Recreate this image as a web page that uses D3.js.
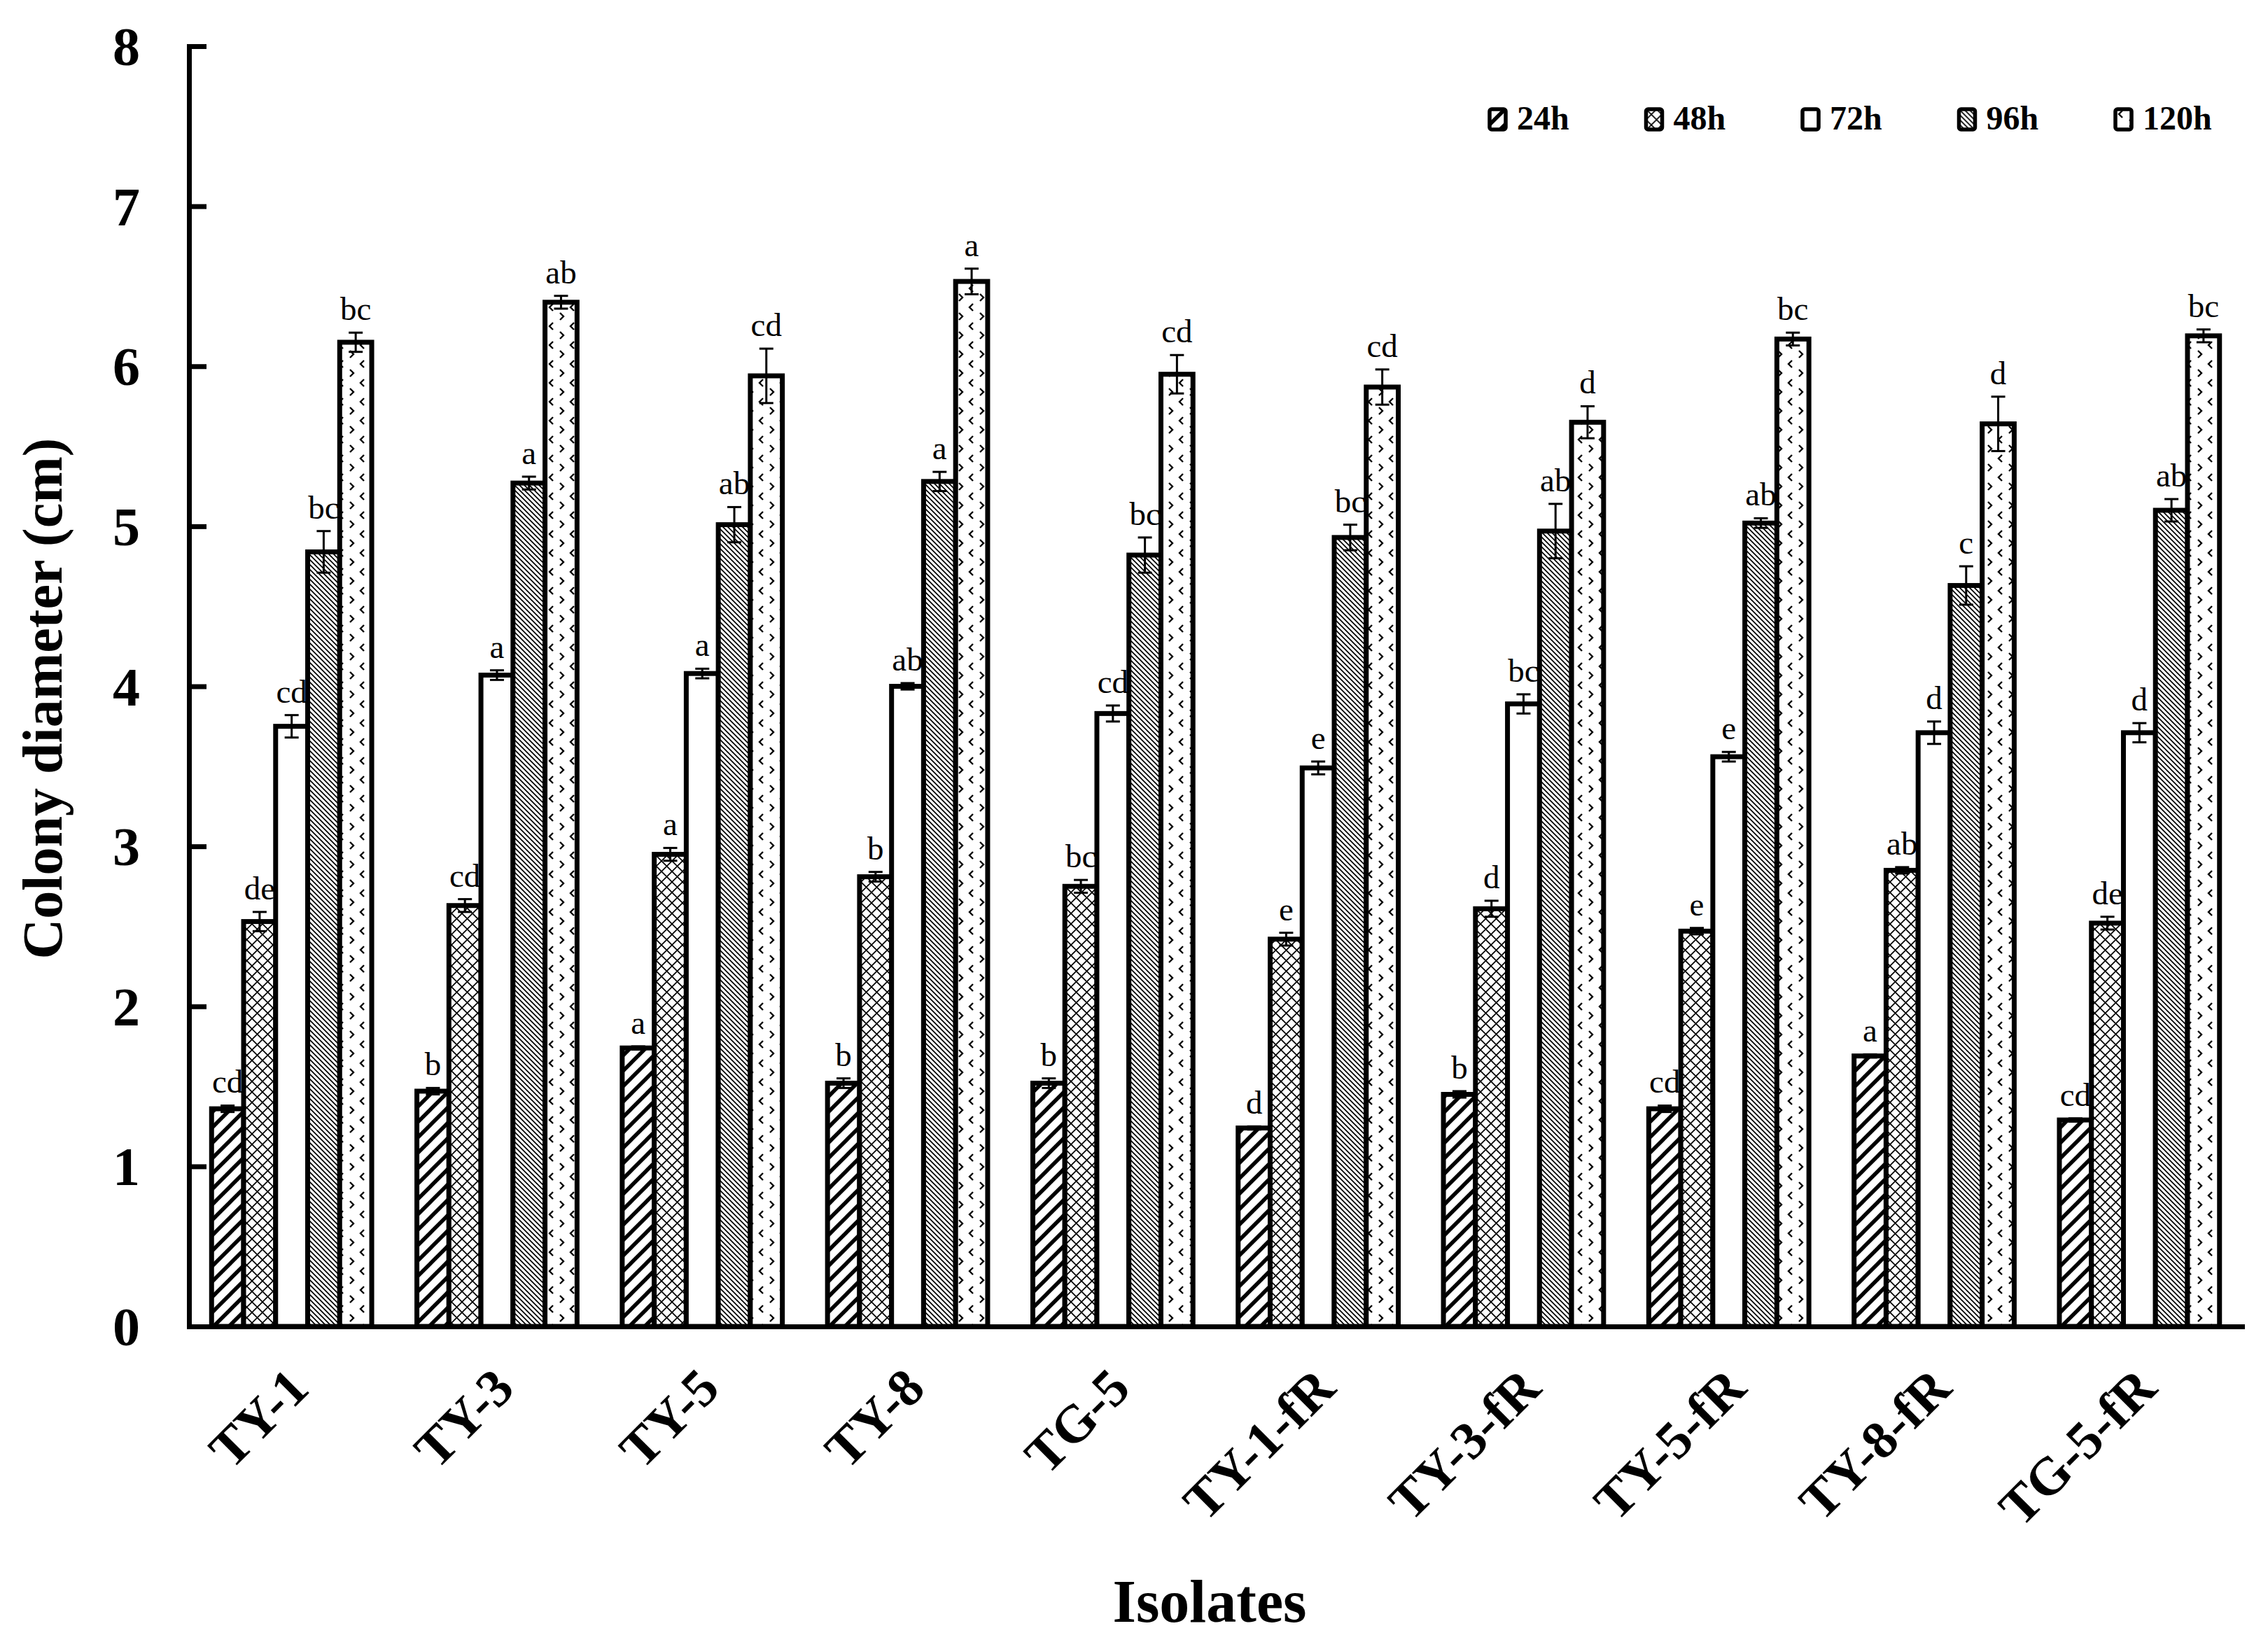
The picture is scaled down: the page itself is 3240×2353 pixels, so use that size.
<!DOCTYPE html>
<html>
<head>
<meta charset="utf-8">
<script src="https://cdn.jsdelivr.net/npm/d3@7"></script>
<style>
  html, body { margin: 0; padding: 0; background: #fff; }
  svg { display: block; }
  text { font-family: "Liberation Serif", "Times New Roman", serif; fill: #000; }
</style>
</head>
<body>
<svg id="chart" width="3240" height="2353"></svg>
<script>
// ---------- DATA ----------
const categories = ["TY-1", "TY-3", "TY-5", "TY-8", "TG-5", "TY-1-fR", "TY-3-fR", "TY-5-fR", "TY-8-fR", "TG-5-fR"];
const seriesNames = ["24h", "48h", "72h", "96h", "120h"];

const mean24  = [1.36, 1.47, 1.74, 1.52, 1.52, 1.24, 1.45, 1.36, 1.69, 1.29];
const mean48  = [2.53, 2.63, 2.95, 2.81, 2.75, 2.42, 2.61, 2.47, 2.85, 2.52];
const mean72  = [3.75, 4.07, 4.08, 4.00, 3.83, 3.49, 3.89, 3.56, 3.71, 3.71];
const mean96  = [4.84, 5.27, 5.01, 5.28, 4.82, 4.93, 4.97, 5.02, 4.63, 5.10];
const mean120 = [6.15, 6.40, 5.94, 6.53, 5.95, 5.87, 5.65, 6.17, 5.64, 6.19];

const err24  = [0.02, 0.02, 0.01, 0.03, 0.03, 0.01, 0.02, 0.02, 0.01, 0.01];
const err48  = [0.06, 0.04, 0.04, 0.03, 0.04, 0.04, 0.05, 0.02, 0.02, 0.04];
const err72  = [0.07, 0.03, 0.03, 0.02, 0.05, 0.04, 0.06, 0.03, 0.07, 0.06];
const err96  = [0.13, 0.04, 0.11, 0.06, 0.11, 0.08, 0.17, 0.03, 0.12, 0.07];
const err120 = [0.06, 0.04, 0.17, 0.08, 0.12, 0.11, 0.10, 0.04, 0.17, 0.04];

const let24  = ["cd", "b", "a", "b", "b", "d", "b", "cd", "a", "cd"];
const let48  = ["de", "cd", "a", "b", "bc", "e", "d", "e", "ab", "de"];
const let72  = ["cd", "a", "a", "ab", "cd", "e", "bc", "e", "d", "d"];
const let96  = ["bc", "a", "ab", "a", "bc", "bc", "ab", "ab", "c", "ab"];
const let120 = ["bc", "ab", "cd", "a", "cd", "cd", "d", "bc", "d", "bc"];

const yTicks = [0, 1, 2, 3, 4, 5, 6, 7, 8];

const means = [mean24, mean48, mean72, mean96, mean120];
const errs = [err24, err48, err72, err96, err120];
const letters = [let24, let48, let72, let96, let120];
const patternIds = ["p24", "p48", "p72", "p96", "p120"];

// ---------- LAYOUT ----------
const svg = d3.select("#chart");
const plotLeft = 270, plotRight = 3203, plotTop = 66, plotBottom = 1895;

const x0 = d3.scaleBand().domain(categories).range([plotLeft, plotRight]).paddingInner(0.22).paddingOuter(0.11);
const x1 = d3.scaleBand().domain(seriesNames).range([0, x0.bandwidth()]).padding(0);
const y = d3.scaleLinear().domain([0, 8]).range([plotBottom, plotTop]);

// ---------- PATTERNS ----------
const defs = svg.append("defs");
function pat(id, w, h) {
  const p = defs.append("pattern").attr("id", id).attr("patternUnits", "userSpaceOnUse")
    .attr("width", w).attr("height", h);
  p.append("rect").attr("width", w).attr("height", h).attr("fill", "#fff");
  return p;
}
pat("p24", 22, 22).append("path")
  .attr("d", "M-5,5 L5,-5 M0,22 L22,0 M17,27 L27,17")
  .attr("stroke", "#000").attr("stroke-width", 5.5);
pat("p48", 15, 15).append("path")
  .attr("d", "M0,0 L15,15 M15,0 L0,15 M-2,13 L2,17 M13,-2 L17,2 M-2,2 L2,-2 M13,17 L17,13")
  .attr("stroke", "#000").attr("stroke-width", 1.7);
pat("p72", 10, 10);
pat("p96", 7, 7).append("path")
  .attr("d", "M-1,-1 L8,8 M-1,6 L1,8 M6,-1 L8,1")
  .attr("stroke", "#000").attr("stroke-width", 1.7);
const p120 = pat("p120", 30, 27);
p120.append("path").attr("d", "M10,2 L5,7 L10,12").attr("fill", "none").attr("stroke", "#000").attr("stroke-width", 2.4);
p120.append("path").attr("d", "M20,15 L25,20 L20,25").attr("fill", "none").attr("stroke", "#000").attr("stroke-width", 2.4);

// ---------- BARS ----------
const barData = [];
categories.forEach((c, i) => {
  seriesNames.forEach((s, j) => {
    barData.push({ cat: c, ser: s, j: j, v: means[j][i], e: errs[j][i], lab: letters[j][i] });
  });
});

const gBars = svg.append("g");
gBars.selectAll("rect").data(barData).join("rect")
  .attr("x", d => x0(d.cat) + x1(d.ser))
  .attr("y", d => y(d.v))
  .attr("width", x1.bandwidth())
  .attr("height", d => y(0) - y(d.v))
  .attr("fill", d => `url(#${patternIds[d.j]})`)
  .attr("stroke", "#000").attr("stroke-width", 7);

const gErr = svg.append("g").attr("stroke", "#000").attr("stroke-width", 3);
const cx = d => x0(d.cat) + x1(d.ser) + x1.bandwidth() / 2;
gErr.selectAll("line.v").data(barData).join("line").attr("class", "v")
  .attr("x1", cx).attr("x2", cx)
  .attr("y1", d => y(d.v - d.e)).attr("y2", d => y(d.v + d.e));
gErr.selectAll("line.t").data(barData).join("line").attr("class", "t")
  .attr("x1", d => cx(d) - 10).attr("x2", d => cx(d) + 10)
  .attr("y1", d => y(d.v + d.e)).attr("y2", d => y(d.v + d.e));
gErr.selectAll("line.b").data(barData).join("line").attr("class", "b")
  .attr("x1", d => cx(d) - 10).attr("x2", d => cx(d) + 10)
  .attr("y1", d => y(d.v - d.e)).attr("y2", d => y(d.v - d.e));

svg.append("g").selectAll("text").data(barData).join("text")
  .attr("x", cx)
  .attr("y", d => y(d.v + d.e) - 18)
  .attr("text-anchor", "middle")
  .attr("font-size", 47)
  .text(d => d.lab);

// ---------- AXES ----------
const gy = svg.append("g").attr("transform", `translate(${plotLeft},0)`)
  .call(d3.axisLeft(y).tickValues(yTicks).tickFormat(d3.format("d"))
    .tickSizeInner(-25).tickSizeOuter(0).tickPadding(70));
gy.select(".domain").attr("stroke", "#000").attr("stroke-width", 7).attr("stroke-linecap", "square");
gy.selectAll(".tick line").attr("stroke", "#000").attr("stroke-width", 7);
gy.selectAll(".tick text").attr("font-size", 78).attr("font-weight", "bold")
  .attr("font-family", "Liberation Serif, Times New Roman, serif").attr("dy", "0.34em");

const gx = svg.append("g").attr("transform", `translate(0,${plotBottom})`)
  .call(d3.axisBottom(x0).tickSize(0).tickSizeOuter(0));
gx.select(".domain").attr("stroke", "#000").attr("stroke-width", 7).attr("stroke-linecap", "square");
gx.selectAll(".tick text")
  .attr("font-size", 76).attr("font-weight", "bold")
  .attr("font-family", "Liberation Serif, Times New Roman, serif")
  .attr("x", 0).attr("y", 0).attr("dy", 0)
  .attr("text-anchor", "end")
  .attr("transform", "translate(28,92) rotate(-45)");

svg.append("text")
  .attr("transform", "translate(88,998) rotate(-90)")
  .attr("text-anchor", "middle")
  .attr("font-size", 80).attr("font-weight", "bold")
  .text("Colony diameter (cm)");
svg.append("text")
  .attr("x", 1728).attr("y", 2317)
  .attr("text-anchor", "middle")
  .attr("font-size", 86).attr("font-weight", "bold")
  .text("Isolates");

// ---------- LEGEND ----------
const legendX = d3.scalePoint().domain(seriesNames).range([2128, 3022]);
const lg = svg.append("g").selectAll("g").data(seriesNames).join("g")
  .attr("transform", d => `translate(${legendX(d)},156)`);
lg.append("rect").attr("width", 23).attr("height", 29).attr("rx", 3)
  .attr("fill", (d, i) => `url(#${patternIds[i]})`)
  .attr("stroke", "#000").attr("stroke-width", 5.5);
lg.append("text").attr("x", 39).attr("y", 29)
  .attr("font-size", 48).attr("font-weight", "bold")
  .text(d => d);
</script>
</body>
</html>
